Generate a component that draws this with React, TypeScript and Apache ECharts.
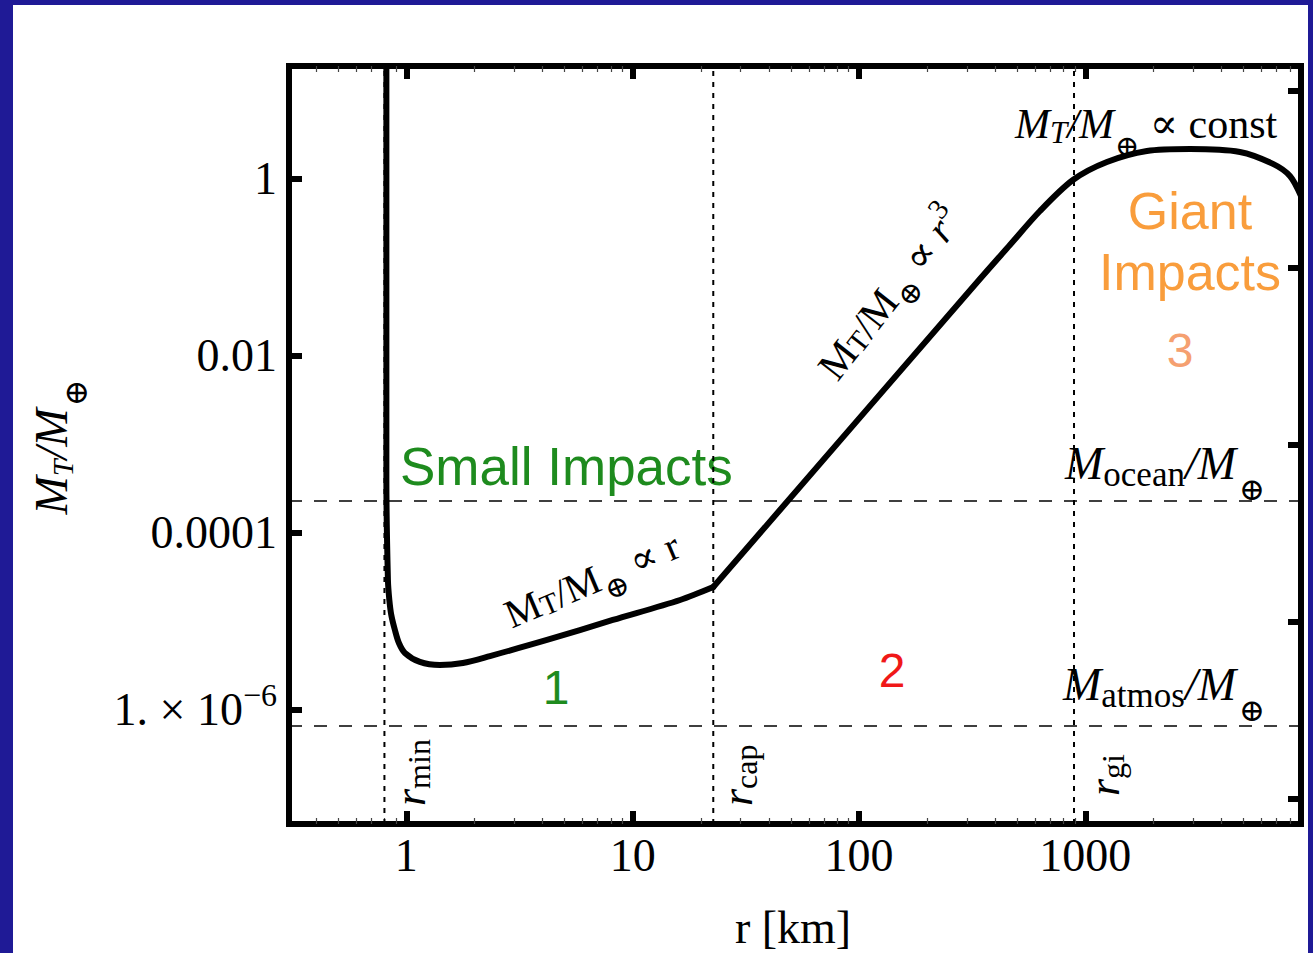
import React, { useEffect, useRef } from "react";
import * as echarts from "echarts";

// Curve M_T/M_⊕ versus impactor radius r [km]; the knee at r_cap splits it in two branches
const radiusKm = [
  0.816, 0.816, 0.829, 0.841, 0.858, 0.89, 0.927, 0.985, 1.147, 1.406, 1.777,
  2.34, 4.18, 8.17, 16.2, 22.7, 342, 464, 630, 881, 1245, 1870, 2901, 4820,
  6745, 8016, 8970,
];
const targetMass = [
  62.6, 3.97e-4, 2.94e-5, 1.75e-5, 1.18e-5, 8.0e-6, 5.71e-6, 4.41e-6, 3.49e-6,
  3.22e-6, 3.4e-6, 4.07e-6, 6.18e-6, 1.04e-5, 1.75e-5, 2.45e-5, 0.0741, 0.1796,
  0.435, 0.974, 1.556, 2.07, 2.18, 2.02, 1.48, 1.08, 0.642,
];
const kneeIndex = 15;

// Axis ticks
const xMajorTicks = [1, 10, 100, 1000];
const xMinorTicks = [
  0.4, 0.5, 0.6, 0.7, 0.8, 0.9, 2, 3, 4, 5, 6, 7, 8, 9, 20, 30, 40, 50, 60, 70,
  80, 90, 200, 300, 400, 500, 600, 700, 800, 900, 2000, 3000, 4000, 5000, 6000,
  7000, 8000,
];
const yLeftTicks = [1e-6, 1e-4, 1e-2, 1];
const yRightTicks = [1e-7, 1e-5, 1e-3, 0.1, 10];

// Reference levels
const oceanMass = 2.3e-4;
const atmosMass = 6.6e-7;
const rMin = 0.8;
const rCap = 22.7;
const rGi = 891;

const X_MIN = 0.303;
const X_MAX = 8970;
const Y_MIN = 5.15e-8;
const Y_MAX = 18.9;

const SERIF = '"Liberation Serif", "DejaVu Serif", "Times New Roman", serif';
const SANS = '"Liberation Sans", Arial, sans-serif';
const GREEN = "#1e8b1e";
const RED = "#f01818";
const ORANGE = "#f99d3c";
const SALMON = "#f5a070";

type Piece = { t: string; size: number; italic?: boolean; dy?: number; dx?: number };

let measureCtx: CanvasRenderingContext2D | null = null;
function fontOf(size: number, italic?: boolean) {
  return `${italic ? "italic " : ""}${size}px ${SERIF}`;
}
function textWidth(t: string, size: number, italic?: boolean) {
  if (!measureCtx) measureCtx = document.createElement("canvas").getContext("2d");
  if (!measureCtx) return t.length * size * 0.5;
  measureCtx.font = fontOf(size, italic);
  return measureCtx.measureText(t).width;
}

// Lays out a small formula from pieces (sub/superscripts via dy) as a graphic group
function formula(
  pieces: Piece[],
  x: number,
  y: number,
  rotationDeg: number,
  anchor: "start" | "center"
) {
  let cursor = 0;
  const items: any[] = pieces.map((p) => {
    cursor += p.dx ?? 0;
    const el = {
      type: "text",
      x: cursor,
      y: p.dy ?? 0,
      style: {
        text: p.t,
        font: fontOf(p.size, p.italic),
        fill: "#000",
        align: "left",
        verticalAlign: "middle",
      },
    };
    cursor += textWidth(p.t, p.size, p.italic);
    return el;
  });
  const shift = anchor === "center" ? -cursor / 2 : 0;
  items.forEach((el) => (el.x += shift));
  return {
    type: "group",
    x,
    y,
    rotation: (rotationDeg * Math.PI) / 180,
    children: items,
  };
}

function sansLabel(text: string, x: number, y: number, size: number, color: string, align = "center") {
  return {
    type: "text",
    x,
    y,
    style: {
      text,
      font: `${size}px ${SANS}`,
      fill: color,
      align,
      verticalAlign: "middle",
    },
  };
}

function yLabel(v: number) {
  const e = Math.round(Math.log10(v));
  if (e === 0) return "1";
  if (e === -2) return "0.01";
  if (e === -4) return "0.0001";
  if (e === -6) return "{n|1. × 10}{e|−6}";
  return "";
}

function refLine(data: number[][], type: number[], width: number) {
  return {
    type: "line",
    xAxisIndex: 0,
    yAxisIndex: 0,
    data,
    showSymbol: false,
    symbol: "none",
    silent: true,
    clip: true,
    z: 3,
    lineStyle: { color: "#000", width, type },
  };
}

export default function App() {
  const ref = useRef<HTMLDivElement>(null);

  useEffect(() => {
    if (!ref.current) return;
    const chart = echarts.init(ref.current, null, { renderer: "svg" });

    const baseX = {
      type: "log",
      logBase: 10,
      min: X_MIN,
      max: X_MAX,
      gridIndex: 0,
      axisLine: { show: false },
      splitLine: { show: false },
      minorTick: { show: false },
      minorSplitLine: { show: false },
    };
    const majorTick = (values: number[]) => ({
      show: true,
      inside: true,
      length: 13,
      customValues: values,
      lineStyle: { color: "#000", width: 6 },
    });
    const minorTick = (values: number[]) => ({
      show: true,
      inside: true,
      length: 6,
      customValues: values,
      lineStyle: { color: "#444", width: 1.2 },
    });
    const baseY = {
      type: "log",
      logBase: 10,
      min: Y_MIN,
      max: Y_MAX,
      gridIndex: 0,
      axisLine: { show: false },
      splitLine: { show: false },
      minorTick: { show: false },
      minorSplitLine: { show: false },
    };

    const points = radiusKm.map((r, i) => [r, targetMass[i]]);
    const dashed = [13, 12];
    const dotted = [5, 6];

    const curve = (data: number[][]) => ({
      type: "line",
      xAxisIndex: 0,
      yAxisIndex: 0,
      data,
      showSymbol: false,
      symbol: "none",
      clip: true,
      smooth: 0.3,
      z: 5,
      lineStyle: { color: "#000", width: 6, join: "round", cap: "round" },
    });

    chart.setOption({
      animation: false,
      backgroundColor: "transparent",
      grid: {
        left: 289,
        top: 66,
        width: 1012,
        height: 758,
        show: true,
        borderColor: "#000",
        borderWidth: 6,
        backgroundColor: "transparent",
        containLabel: false,
        outerBoundsMode: "none",
      },
      xAxis: [
        {
          ...baseX,
          position: "bottom",
          axisTick: majorTick(xMajorTicks),
          axisLabel: {
            show: true,
            customValues: xMajorTicks,
            formatter: (v: number) => String(Math.round(v)),
            fontFamily: SERIF,
            fontSize: 46,
            color: "#000",
            margin: 8,
          },
        },
        { ...baseX, position: "bottom", axisTick: minorTick(xMinorTicks), axisLabel: { show: false } },
        { ...baseX, position: "top", axisTick: majorTick(xMajorTicks), axisLabel: { show: false } },
        { ...baseX, position: "top", axisTick: minorTick(xMinorTicks), axisLabel: { show: false } },
      ],
      yAxis: [
        {
          ...baseY,
          position: "left",
          axisTick: majorTick(yLeftTicks),
          axisLabel: {
            show: true,
            customValues: yLeftTicks,
            formatter: yLabel,
            fontFamily: SERIF,
            fontSize: 46,
            color: "#000",
            margin: 12,
            rich: {
              n: { fontFamily: SERIF, fontSize: 46, color: "#000" },
              e: { fontFamily: SERIF, fontSize: 32, color: "#000", padding: [0, 0, 30, 0] },
            },
          },
        },
        { ...baseY, position: "right", axisTick: majorTick(yRightTicks), axisLabel: { show: false } },
      ],
      series: [
        refLine([[X_MIN, oceanMass], [X_MAX, oceanMass]], dashed, 1.5),
        refLine([[X_MIN, atmosMass], [X_MAX, atmosMass]], dashed, 1.5),
        refLine([[rMin, Y_MIN], [rMin, Y_MAX]], dotted, 2),
        refLine([[rCap, Y_MIN], [rCap, Y_MAX]], dotted, 2),
        refLine([[rGi, Y_MIN], [rGi, Y_MAX]], dotted, 2),
        curve(points.slice(0, kneeIndex + 1)),
        curve(points.slice(kneeIndex)),
      ],
      graphic: [
        // axis titles
        formula(
          [
            { t: "M", size: 46, italic: true },
            { t: "T", size: 30, italic: true, dy: 11 },
            { t: "/", size: 46, italic: true },
            { t: "M", size: 46, italic: true },
            { t: "⊕", size: 32, dy: 25, dx: 2 },
          ],
          51,
          447,
          90,
          "center"
        ),
        {
          type: "text",
          x: 793,
          y: 927,
          style: { text: "r [km]", font: `46px ${SERIF}`, fill: "#000", align: "center", verticalAlign: "middle" },
        },
        // regime annotations
        formula(
          [
            { t: "M", size: 42, italic: true },
            { t: "T", size: 31, italic: true, dy: 8 },
            { t: "/", size: 42, italic: true },
            { t: "M", size: 42, italic: true },
            { t: "⊕", size: 29, dy: 22, dx: 1 },
            { t: " ∝ const", size: 42 },
          ],
          1015,
          124,
          0,
          "start"
        ),
        formula(
          [
            { t: "M", size: 46, italic: true },
            { t: "ocean", size: 35, dy: 11 },
            { t: "/", size: 46, italic: true },
            { t: "M", size: 46, italic: true },
            { t: "⊕", size: 31, dy: 26, dx: 3 },
          ],
          1065,
          463,
          0,
          "start"
        ),
        formula(
          [
            { t: "M", size: 46, italic: true },
            { t: "atmos", size: 35, dy: 11 },
            { t: "/", size: 46, italic: true },
            { t: "M", size: 46, italic: true },
            { t: "⊕", size: 31, dy: 26, dx: 3 },
          ],
          1063,
          684,
          0,
          "start"
        ),
        formula(
          [
            { t: "M", size: 40 },
            { t: "T", size: 29, dy: 5 },
            { t: "/", size: 40 },
            { t: "M", size: 40 },
            { t: "⊕", size: 29, dy: 16, dx: 1 },
            { t: " ∝ r", size: 40 },
          ],
          592,
          580,
          23,
          "center"
        ),
        formula(
          [
            { t: "M", size: 41 },
            { t: "T", size: 29, dy: 5 },
            { t: "/", size: 41 },
            { t: "M", size: 41 },
            { t: "⊕", size: 29, dy: 16, dx: 1 },
            { t: " ∝ ", size: 41 },
            { t: "r", size: 41, italic: true },
            { t: "3", size: 29, dy: -14 },
          ],
          890,
          293,
          52,
          "center"
        ),
        formula([{ t: "r", size: 44, italic: true }, { t: "min", size: 32, dy: 9 }], 410, 806, 90, "start"),
        formula([{ t: "r", size: 44, italic: true }, { t: "cap", size: 32, dy: 9 }], 737, 806, 90, "start"),
        formula([{ t: "r", size: 44, italic: true }, { t: "gi", size: 32, dy: 9 }], 1104, 796, 90, "start"),
        // impact regimes
        sansLabel("Small Impacts", 400, 466, 53, GREEN, "left"),
        sansLabel("Giant", 1190, 211, 52, ORANGE),
        sansLabel("Impacts", 1190, 272, 52, ORANGE),
        sansLabel("1", 556, 687, 48, GREEN),
        sansLabel("2", 892, 670, 48, RED),
        sansLabel("3", 1180, 350, 48, SALMON),
      ],
    });

    return () => chart.dispose();
  }, []);

  return (
    <div style={{ position: "absolute", left: 0, top: 0, width: 1313, height: 953, background: "#1f1a96", overflow: "hidden" }}>
      <div style={{ position: "absolute", left: 13, top: 5, width: 1295, height: 948, background: "#fff" }} />
      <div ref={ref} style={{ position: "absolute", left: 0, top: 0, width: 1313, height: 953 }} />
    </div>
  );
}
